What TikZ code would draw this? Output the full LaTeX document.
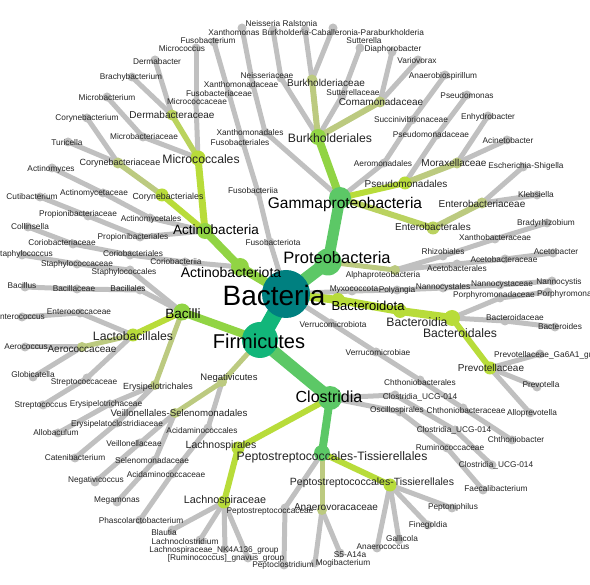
\documentclass[tikz,border=0pt]{standalone}
\usepackage{fontspec}
\setmainfont{Liberation Sans}
\usetikzlibrary{backgrounds}
\definecolor{cgray}{RGB}{192,192,192}
\definecolor{ckhaki}{RGB}{188,202,128}
\definecolor{cyg}{RGB}{184,220,58}
\definecolor{clime}{RGB}{145,212,68}
\definecolor{cgreen}{RGB}{92,200,102}
\definecolor{cfirm}{RGB}{18,182,122}
\definecolor{cteal}{RGB}{0,128,128}
\definecolor{ctext}{RGB}{35,35,35}
\begin{document}
\begin{tikzpicture}
  [x=1pt,y=-1pt,
   lf/.style={circle,fill=cgray,minimum size=9pt,inner sep=0pt},
   nd/.style 2 args={circle,fill=#1,minimum size=#2,inner sep=0pt},
   eg/.style={draw=cgray,line width=5pt},
   ec/.style 2 args={draw=#1,line width=#2},
   lb/.style={inner sep=0pt,text=ctext,font=\fontsize{8.3}{9}\selectfont},
   lb2/.style={lb,font=\fontsize{10}{11}\selectfont},
   lb3/.style={lb,font=\fontsize{12.2}{13}\selectfont}]

  \useasboundingbox (0,0) rectangle (590,585);

  \node[nd={cteal}{48pt}] (bac) at (286,294) {};
  \node[nd={cfirm}{36pt}] (firm) at (260,340) {};
  \node[nd={cgreen}{27pt}] (prot) at (328,262) {};
  \node[nd={clime}{18pt}] (actp) at (240,267) {};
  \node[nd={cyg}{14pt}] (bctd) at (338,300) {};
  \node[lf] (fusp) at (270,242) {};
  \node[lf] (myxo) at (352,291) {};
  \node[lf] (verp) at (331,323) {};

  \node[lf] (fusc) at (258,192) {};
  \node[lf] (fuso) at (243,143) {};
  \node[lf] (fusf) at (229,94) {};
  \node[lf] (fusg) at (214,42) {};

  \node[lf] (poly) at (397,290) {};
  \node[lf] (nano) at (443,288) {};
  \node[lf] (nanf) at (500,285) {};
  \node[lf] (nang) at (552,281) {};

  \node[lf] (verc) at (376,352) {};
  \node[lf] (chto) at (420,380) {};
  \node[lf] (chtf) at (463,408) {};
  \node[lf] (chtg) at (512,440) {};

  \node[nd={cgreen}{22pt}] (gamm) at (340,198) {};
  \node[nd={ckhaki}{10pt}] (alph) at (395,270) {};
  \node[nd={clime}{16pt}] (burk) at (318,137) {};
  \node[nd={cyg}{13pt}] (pseo) at (405,183) {};
  \node[nd={cyg!45!ckhaki}{13pt}] (ento) at (433,228) {};
  \node[lf] (xano) at (265,132) {};
  \node[lf] (xanf) at (253,85) {};
  \node[lf] (xang) at (242,28) {};
  \node[lf] (aerm) at (384,163) {};
  \node[lf] (succ) at (412,120) {};
  \node[lf] (anas) at (445,75) {};
  \node[nd={ckhaki}{11pt}] (burf) at (312,80) {};
  \node[nd={ckhaki}{11pt}] (coma) at (380,102) {};
  \node[lf] (neif) at (281,78) {};
  \node[lf] (neig) at (273,30) {};
  \node[lf] (rals) at (305,30) {};
  \node[lf] (bcpg) at (333,28) {};
  \node[lf] (sutf) at (342,96) {};
  \node[lf] (sutg) at (360,48) {};
  \node[lf] (diap) at (392,52) {};
  \node[lf] (vari) at (418,60) {};
  \node[lf] (psef) at (437,135) {};
  \node[lf] (psdg) at (467,95) {};
  \node[nd={ckhaki}{11pt}] (morx) at (457,163) {};
  \node[lf] (enhy) at (488,116) {};
  \node[lf] (acin) at (507,140) {};
  \node[nd={ckhaki}{11pt}] (entf) at (482,203) {};
  \node[lf] (esch) at (523,167) {};
  \node[lf] (kleb) at (537,195) {};
  \node[lf] (rhiz) at (443,256) {};
  \node[lf] (xbf) at (495,239) {};
  \node[lf] (brad) at (547,223) {};
  \node[lf] (acto) at (457,264) {};
  \node[lf] (actf) at (505,259) {};
  \node[lf] (acet) at (553,253) {};

  \node[nd={cyg}{14pt}] (bctc) at (400,311) {};
  \node[nd={cyg}{16pt}] (bcto) at (452,318) {};
  \node[lf] (bcdf) at (505,321) {};
  \node[lf] (bcdg) at (555,327) {};
  \node[lf] (porf) at (500,298) {};
  \node[lf] (porg) at (548,292) {};
  \node[nd={cyg}{13pt}] (prev) at (490,368) {};
  \node[lf] (ga6a) at (540,354) {};
  \node[lf] (prvg) at (537,387) {};
  \node[lf] (allo) at (530,413) {};

  \node[nd={cgreen}{24pt}] (clos) at (330,398) {};
  \node[nd={clime}{17pt}] (bacl) at (182,312) {};
  \node[nd={ckhaki}{10pt}] (negv) at (222,382) {};

  \node[nd={cyg}{13pt}] (lacho) at (238,448) {};
  \node[nd={cyg}{13pt}] (lachf) at (224,502) {};
  \node[lf] (blau) at (172,530) {};
  \node[lf] (lcld) at (200,540) {};
  \node[lf] (nk4a) at (225,549) {};
  \node[lf] (gnav) at (248,558) {};
  \node[nd={cgreen}{16pt}] (pepo) at (322,453) {};
  \node[lf] (ptcf) at (285,508) {};
  \node[lf] (ptcg) at (284,565) {};
  \node[nd={ckhaki}{10pt}] (anvr) at (322,510) {};
  \node[lf] (s5aa) at (340,553) {};
  \node[lf] (mogi) at (315,563) {};
  \node[nd={cyg}{13pt}] (pepf) at (390,485) {};
  \node[lf] (pnph) at (452,508) {};
  \node[lf] (fine) at (428,525) {};
  \node[lf] (gall) at (399,540) {};
  \node[lf] (anco) at (377,548) {};
  \node[lf] (osci) at (400,412) {};
  \node[lf] (rumf) at (447,448) {};
  \node[lf] (faec) at (483,490) {};
  \node[lf] (ucgo) at (395,395) {};
  \node[lf] (ucgf) at (455,430) {};
  \node[lf] (ucgg) at (492,465) {};

  \node[nd={cyg}{13pt}] (lact) at (133,335) {};
  \node[lf] (entcf) at (80,313) {};
  \node[lf] (entcg) at (22,317) {};
  \node[nd={ckhaki}{10pt}] (aerf) at (82,347) {};
  \node[lf] (aerg) at (25,347) {};
  \node[lf] (glob) at (33,377) {};
  \node[lf] (strf) at (87,378) {};
  \node[lf] (strg) at (43,405) {};
  \node[lf] (bclo) at (140,290) {};
  \node[lf] (bclf) at (77,289) {};
  \node[lf] (bclg) at (25,287) {};
  \node[lf] (stao) at (130,270) {};
  \node[lf] (staf) at (77,264) {};
  \node[lf] (stag) at (22,255) {};
  \node[nd={ckhaki}{10pt}] (erys) at (155,385) {};
  \node[lf] (eryf) at (110,404) {};
  \node[lf] (allb) at (58,433) {};
  \node[lf] (ercf) at (117,423) {};
  \node[lf] (cate) at (75,458) {};

  \node[nd={ckhaki}{10pt}] (veil) at (175,413) {};
  \node[lf] (veif) at (140,443) {};
  \node[lf] (negc) at (95,482) {};
  \node[lf] (self) at (155,460) {};
  \node[lf] (mega) at (117,502) {};
  \node[lf] (acdo) at (208,428) {};
  \node[lf] (acdf) at (172,474) {};
  \node[lf] (phas) at (140,520) {};

  \node[nd={clime}{16pt}] (actb) at (205,231) {};
  \node[lf] (corc) at (185,262) {};
  \node[lf] (coro) at (130,255) {};
  \node[lf] (corf) at (73,244) {};
  \node[lf] (coll) at (28,227) {};
  \node[nd={cyg}{15pt}] (micr) at (198,158) {};
  \node[lf] (micf) at (196,102) {};
  \node[lf] (micg) at (196,48) {};
  \node[nd={cyg!50!ckhaki}{11pt}] (derm) at (172,115) {};
  \node[lf] (derg) at (155,60) {};
  \node[lf] (brac) at (132,77) {};
  \node[lf] (mcbf) at (143,137) {};
  \node[lf] (mcbg) at (107,97) {};
  \node[nd={cyg}{13pt}] (cory) at (162,195) {};
  \node[nd={ckhaki}{11pt}] (coryf) at (118,163) {};
  \node[lf] (coryg) at (87,118) {};
  \node[lf] (turi) at (68,142) {};
  \node[lf] (prpo) at (140,237) {};
  \node[lf] (prpf) at (88,216) {};
  \node[lf] (cuti) at (40,197) {};
  \node[lf] (acmo) at (150,218) {};
  \node[lf] (acmf) at (103,193) {};
  \node[lf] (acmg) at (52,168) {};

  \begin{pgfonlayer}{background}
    \path[eg]
      (bac.center) edge (fusp.center) (fusp.center) edge (fusc.center)
      (fusc.center) edge (fuso.center) (fuso.center) edge (fusf.center)
      (fusf.center) edge (fusg.center)
      (bac.center) edge (myxo.center) (myxo.center) edge (poly.center)
      (poly.center) edge (nano.center) (nano.center) edge (nanf.center)
      (nanf.center) edge (nang.center)
      (bac.center) edge (verp.center) (verp.center) edge (verc.center)
      (verc.center) edge (chto.center) (chto.center) edge (chtf.center)
      (chtf.center) edge (chtg.center)
      (gamm.center) edge (xano.center) (xano.center) edge (xanf.center)
      (xanf.center) edge (xang.center)
      (gamm.center) edge (aerm.center) (aerm.center) edge (succ.center)
      (succ.center) edge (anas.center)
      (burk.center) edge (neif.center) (neif.center) edge (neig.center)
      (burf.center) edge (rals.center) (burf.center) edge (bcpg.center)
      (burk.center) edge (sutf.center) (sutf.center) edge (sutg.center)
      (coma.center) edge (diap.center) (coma.center) edge (vari.center)
      (pseo.center) edge (psef.center) (psef.center) edge (psdg.center)
      (morx.center) edge (enhy.center) (morx.center) edge (acin.center)
      (entf.center) edge (esch.center) (entf.center) edge (kleb.center)
      (alph.center) edge (rhiz.center) (rhiz.center) edge (xbf.center)
      (xbf.center) edge (brad.center)
      (alph.center) edge (acto.center) (acto.center) edge (actf.center)
      (actf.center) edge (acet.center)
      (bcto.center) edge (bcdf.center) (bcdf.center) edge (bcdg.center)
      (bcto.center) edge (porf.center) (porf.center) edge (porg.center)
      (prev.center) edge (ga6a.center) (prev.center) edge (prvg.center)
      (prev.center) edge (allo.center)
      (clos.center) edge (ucgo.center) (ucgo.center) edge (ucgf.center)
      (ucgf.center) edge (ucgg.center)
      (clos.center) edge (osci.center) (osci.center) edge (rumf.center)
      (rumf.center) edge (faec.center)
      (lachf.center) edge (blau.center) (lachf.center) edge (lcld.center)
      (lachf.center) edge (nk4a.center) (lachf.center) edge (gnav.center)
      (pepo.center) edge (ptcf.center) (ptcf.center) edge (ptcg.center)
      (anvr.center) edge (s5aa.center) (anvr.center) edge (mogi.center)
      (pepf.center) edge (pnph.center) (pepf.center) edge (fine.center)
      (pepf.center) edge (gall.center) (pepf.center) edge (anco.center)
      (lact.center) edge (entcf.center) (entcf.center) edge (entcg.center)
      (aerf.center) edge (aerg.center) (aerf.center) edge (glob.center)
      (lact.center) edge (strf.center) (strf.center) edge (strg.center)
      (bacl.center) edge (bclo.center) (bclo.center) edge (bclf.center)
      (bclf.center) edge (bclg.center)
      (bacl.center) edge (stao.center) (stao.center) edge (staf.center)
      (staf.center) edge (stag.center)
      (erys.center) edge (eryf.center) (eryf.center) edge (allb.center)
      (erys.center) edge (ercf.center) (ercf.center) edge (cate.center)
      (veil.center) edge (veif.center) (veif.center) edge (negc.center)
      (veil.center) edge (self.center) (self.center) edge (mega.center)
      (negv.center) edge (acdo.center) (acdo.center) edge (acdf.center)
      (acdf.center) edge (phas.center)
      (actp.center) edge (corc.center) (corc.center) edge (coro.center)
      (coro.center) edge (corf.center) (corf.center) edge (coll.center)
      (micr.center) edge (micf.center) (micf.center) edge (micg.center)
      (derm.center) edge (derg.center) (derm.center) edge (brac.center)
      (micr.center) edge (mcbf.center) (mcbf.center) edge (mcbg.center)
      (coryf.center) edge (coryg.center) (coryf.center) edge (turi.center)
      (actb.center) edge (prpo.center) (prpo.center) edge (prpf.center)
      (prpf.center) edge (cuti.center)
      (actb.center) edge (acmo.center) (acmo.center) edge (acmf.center)
      (acmf.center) edge (acmg.center);

    \draw[ec={cfirm}{16pt}] (bac.center) -- (firm.center);
    \draw[ec={cgreen}{13pt}] (bac.center) -- (prot.center);
    \draw[ec={clime}{9pt}] (bac.center) -- (actp.center);
    \draw[ec={cyg}{8pt}] (bac.center) -- (bctd.center);
    \draw[ec={cgreen}{12pt}] (firm.center) -- (clos.center);
    \draw[ec={clime}{8pt}] (firm.center) -- (bacl.center);
    \draw[ec={ckhaki}{5pt}] (firm.center) -- (negv.center);
    \draw[ec={cgreen}{11pt}] (prot.center) -- (gamm.center);
    \draw[ec={ckhaki}{5pt}] (prot.center) -- (alph.center);
    \draw[ec={clime}{8pt}] (gamm.center) -- (burk.center);
    \draw[ec={cyg}{6pt}] (gamm.center) -- (pseo.center);
    \draw[ec={cyg!45!ckhaki}{6pt}] (gamm.center) -- (ento.center);
    \draw[ec={ckhaki}{6pt}] (burk.center) -- (burf.center);
    \draw[ec={ckhaki}{6pt}] (burk.center) -- (coma.center);
    \draw[ec={ckhaki}{6pt}] (pseo.center) -- (morx.center);
    \draw[ec={ckhaki}{6pt}] (ento.center) -- (entf.center);
    \draw[ec={clime}{8pt}] (actp.center) -- (actb.center);
    \draw[ec={cyg}{7pt}] (actb.center) -- (micr.center);
    \draw[ec={cyg}{6pt}] (actb.center) -- (cory.center);
    \draw[ec={cyg!50!ckhaki}{5.5pt}] (micr.center) -- (derm.center);
    \draw[ec={ckhaki}{5.5pt}] (cory.center) -- (coryf.center);
    \draw[ec={cyg}{8pt}] (bctd.center) -- (bctc.center);
    \draw[ec={cyg}{8pt}] (bctc.center) -- (bcto.center);
    \draw[ec={cyg}{6pt}] (bcto.center) -- (prev.center);
    \draw[ec={cyg}{6pt}] (bacl.center) -- (lact.center);
    \draw[ec={ckhaki}{5pt}] (bacl.center) -- (erys.center);
    \draw[ec={ckhaki}{5pt}] (lact.center) -- (aerf.center);
    \draw[ec={ckhaki}{5pt}] (negv.center) -- (veil.center);
    \draw[ec={cyg}{6pt}] (clos.center) -- (lacho.center);
    \draw[ec={cyg}{6pt}] (lacho.center) -- (lachf.center);
    \draw[ec={cgreen}{8pt}] (clos.center) -- (pepo.center);
    \draw[ec={cyg}{6pt}] (pepo.center) -- (pepf.center);
    \draw[ec={ckhaki}{5pt}] (pepo.center) -- (anvr.center);
  \end{pgfonlayer}

  \node[lb,font=\fontsize{28}{30}\selectfont,text=black] (tbac) at (274,295) {Bacteria};
  \node[lb,font=\fontsize{20}{22}\selectfont,text=black] (tfirm) at (259,341) {Firmicutes};
  \node[lb,font=\fontsize{16.5}{18}\selectfont,text=black] (tprot) at (337,258) {Proteobacteria};
  \node[lb,font=\fontsize{15.5}{17}\selectfont,text=black] (tgamm) at (345,204) {Gammaproteobacteria};
  \node[lb,font=\fontsize{16}{18}\selectfont,text=black] (tclos) at (329,397) {Clostridia};
  \node[lb,font=\fontsize{14}{16}\selectfont,text=black] (tactp) at (231,272) {Actinobacteriota};
  \node[lb,font=\fontsize{13.5}{15}\selectfont,text=black] (tactb) at (216,230) {Actinobacteria};
  \node[lb,font=\fontsize{13.5}{15}\selectfont,text=black] (tbacl) at (183,314) {Bacilli};
  \node[lb,font=\fontsize{13}{15}\selectfont,text=black] (tbctd) at (368,306) {Bacteroidota};

  \node[lb3] (tburk) at (330,138) {Burkholderiales};
  \node[lb3] (tmicr) at (201,159) {Micrococcales};
  \node[lb3] (tbctc) at (417,322) {Bacteroidia};
  \node[lb3] (tbcto) at (460,333) {Bacteroidales};
  \node[lb3] (tlact) at (133,336) {Lactobacillales};
  \node[lb3] (tpepo) at (332,457) {Peptostreptococcales-Tissierellales};

  \node[lb2] (tburf) at (326,83) {Burkholderiaceae};
  \node[lb2] (tcoma) at (381,102) {Comamonadaceae};
  \node[lb2] (tmorx) at (454,163) {Moraxellaceae};
  \node[lb2] (tpseo) at (406,184) {Pseudomonadales};
  \node[lb2] (tentf) at (482,204) {Enterobacteriaceae};
  \node[lb2] (tento) at (433,227) {Enterobacterales};
  \node[lb2] (tprev) at (491,368) {Prevotellaceae};
  \node[lb2] (tderm) at (172,115) {Dermabacteraceae};
  \node[lb2] (taerf) at (82,349) {Aerococcaceae};
  \node[lb,font=\fontsize{9.7}{11}\selectfont] (tveil) at (179,413) {Veillonellales-Selenomonadales};
  \node[lb,font=\fontsize{9.5}{11}\selectfont] (tnegv) at (229,378) {Negativicutes};
  \node[lb,font=\fontsize{10.5}{12}\selectfont] (tlacho) at (221,446) {Lachnospirales};
  \node[lb,font=\fontsize{10.8}{12}\selectfont] (tlachf) at (225,501) {Lachnospiraceae};
  \node[lb,font=\fontsize{10.5}{12}\selectfont] (tpepf) at (372,483) {Peptostreptococcales-Tissierellales};
  \node[lb2] (tanvr) at (336,507) {Anaerovoracaceae};
  \node[lb,font=\fontsize{9}{10}\selectfont] (tcoryf) at (120,163) {Corynebacteriaceae};
  \node[lb,font=\fontsize{8.8}{10}\selectfont] (tcory) at (168,197) {Corynebacteriales};
  \node[lb,font=\fontsize{8.9}{10}\selectfont] (terys) at (158,387) {Erysipelotrichales};

  \node[lb] (tfusp) at (273,243) {Fusobacteriota};
  \node[lb] (tfusc) at (253,191) {Fusobacteriia};
  \node[lb] (tfuso) at (240,143) {Fusobacteriales};
  \node[lb] (tfusf) at (219,94) {Fusobacteriaceae};
  \node[lb] (tfusg) at (208,41) {Fusobacterium};
  \node[lb] (tmyxo) at (354,290) {Myxococcota};
  \node[lb] (tpoly) at (397,290) {Polyangia};
  \node[lb] (tnano) at (443,287) {Nannocystales};
  \node[lb] (tnanf) at (502,285) {Nannocystaceae};
  \node[lb] (tnang) at (559,282) {Nannocystis};
  \node[lb] (tverp) at (333,325) {Verrucomicrobiota};
  \node[lb] (tverc) at (378,353) {Verrucomicrobiae};
  \node[lb] (tchto) at (420,383) {Chthoniobacterales};
  \node[lb] (tchtf) at (466,411) {Chthoniobacteraceae};
  \node[lb] (tchtg) at (516,440) {Chthoniobacter};

  \node[lb] (txano) at (250,133) {Xanthomonadales};
  \node[lb] (txanf) at (241,85) {Xanthomonadaceae};
  \node[lb] (txang) at (234,33) {Xanthomonas};
  \node[lb] (taerm) at (383,164) {Aeromonadales};
  \node[lb] (tsucc) at (411,120) {Succinivibrionaceae};
  \node[lb] (tanas) at (443,76) {Anaerobiospirillum};
  \node[lb] (tneif) at (267,76) {Neisseriaceae};
  \node[lb] (tneig) at (263,24) {Neisseria};
  \node[lb] (trals) at (300,24) {Ralstonia};
  \node[lb] (tbcpg) at (343,33) {Burkholderia-Caballeronia-Paraburkholderia};
  \node[lb] (tsutf) at (353,93) {Sutterellaceae};
  \node[lb] (tsutg) at (364,41) {Sutterella};
  \node[lb] (tdiap) at (393,49) {Diaphorobacter};
  \node[lb] (tvari) at (417,61) {Variovorax};
  \node[lb] (tpsef) at (431,135) {Pseudomonadaceae};
  \node[lb] (tpsdg) at (467,96) {Pseudomonas};
  \node[lb] (tenhy) at (488,117) {Enhydrobacter};
  \node[lb] (tacin) at (508,141) {Acinetobacter};
  \node[lb] (tesch) at (526,166) {Escherichia-Shigella};
  \node[lb] (tkleb) at (536,195) {Klebsiella};
  \node[lb] (talph) at (383,275) {Alphaproteobacteria};
  \node[lb] (trhiz) at (443,252) {Rhizobiales};
  \node[lb] (txbf) at (495,238) {Xanthobacteraceae};
  \node[lb] (tbrad) at (546,223) {Bradyrhizobium};
  \node[lb] (tacto) at (457,269) {Acetobacterales};
  \node[lb] (tactf) at (504,260) {Acetobacteraceae};
  \node[lb] (tacet) at (556,252) {Acetobacter};

  \node[lb] (tbcdf) at (515,318) {Bacteroidaceae};
  \node[lb] (tbcdg) at (560,327) {Bacteroides};
  \node[lb] (tporf) at (494,295) {Porphyromonadaceae};
  \node[lb,anchor=west] (tporg) at (537,294) {Porphyromonas};
  \node[lb,anchor=west] (tga6a) at (494,355) {Prevotellaceae\_Ga6A1\_group};
  \node[lb] (tprvg) at (541,385) {Prevotella};
  \node[lb] (tallo) at (532,413) {Alloprevotella};

  \node[lb] (tblau) at (164,533) {Blautia};
  \node[lb] (tlcld) at (185,542) {Lachnoclostridium};
  \node[lb] (tnk4a) at (214,550) {Lachnospiraceae\_NK4A136\_group};
  \node[lb] (tgnav) at (226,558) {[Ruminococcus]\_gnavus\_group};
  \node[lb] (tptcf) at (270,512) {Peptostreptococcaceae};
  \node[lb] (tptcg) at (283,565) {Peptoclostridium};
  \node[lb] (ts5aa) at (350,555) {S5-A14a};
  \node[lb] (tmogi) at (343,563) {Mogibacterium};
  \node[lb] (tpnph) at (453,507) {Peptoniphilus};
  \node[lb] (tfine) at (428,525) {Finegoldia};
  \node[lb] (tgall) at (402,539) {Gallicola};
  \node[lb] (tanco) at (383,547) {Anaerococcus};
  \node[lb] (tosci) at (397,410) {Oscillospirales};
  \node[lb] (trumf) at (450,448) {Ruminococcaceae};
  \node[lb] (tfaec) at (496,489) {Faecalibacterium};
  \node[lb] (tucgo) at (420,397) {Clostridia\_UCG-014};
  \node[lb] (tucgf) at (454,430) {Clostridia\_UCG-014};
  \node[lb] (tucgg) at (496,465) {Clostridia\_UCG-014};

  \node[lb] (tentcf) at (79,312) {Enterococcaceae};
  \node[lb,anchor=east] (tentcg) at (45,317) {Enterococcus};
  \node[lb] (taerg) at (26,347) {Aerococcus};
  \node[lb] (tglob) at (33,375) {Globicatella};
  \node[lb] (tstrf) at (84,382) {Streptococcaceae};
  \node[lb] (tstrg) at (41,405) {Streptococcus};
  \node[lb] (tbclo) at (128,289) {Bacillales};
  \node[lb] (tbclf) at (74,289) {Bacillaceae};
  \node[lb] (tbclg) at (22,286) {Bacillus};
  \node[lb] (tstao) at (124,272) {Staphylococcales};
  \node[lb] (tstaf) at (77,264) {Staphylococcaceae};
  \node[lb,anchor=east] (tstag) at (53,254) {Staphylococcus};
  \node[lb] (teryf) at (106,404) {Erysipelotrichaceae};
  \node[lb] (tallb) at (56,433) {Allobaculum};
  \node[lb] (tercf) at (117,424) {Erysipelatoclostridiaceae};
  \node[lb] (tcate) at (75,458) {Catenibacterium};
  \node[lb] (tveif) at (134,444) {Veillonellaceae};
  \node[lb] (tnegc) at (96,480) {Negativicoccus};
  \node[lb] (tself) at (152,461) {Selenomonadaceae};
  \node[lb] (tmega) at (117,501) {Megamonas};
  \node[lb] (tacdo) at (202,431) {Acidaminococcales};
  \node[lb] (tacdf) at (166,475) {Acidaminococcaceae};
  \node[lb] (tphas) at (141,521) {Phascolarctobacterium};

  \node[lb] (tcorc) at (176,262) {Coriobacteriia};
  \node[lb] (tcoro) at (133,254) {Coriobacteriales};
  \node[lb] (tcorf) at (62,243) {Coriobacteriaceae};
  \node[lb] (tcoll) at (30,227) {Collinsella};
  \node[lb] (tmicf) at (197,102) {Micrococcaceae};
  \node[lb] (tmicg) at (182,49) {Micrococcus};
  \node[lb] (tderg) at (157,62) {Dermabacter};
  \node[lb] (tbrac) at (131,77) {Brachybacterium};
  \node[lb] (tmcbf) at (144,137) {Microbacteriaceae};
  \node[lb] (tmcbg) at (107,98) {Microbacterium};
  \node[lb] (tcoryg) at (87,118) {Corynebacterium};
  \node[lb] (tturi) at (67,143) {Turicella};
  \node[lb] (tprpo) at (133,237) {Propionibacteriales};
  \node[lb] (tprpf) at (78,214) {Propionibacteriaceae};
  \node[lb] (tcuti) at (32,197) {Cutibacterium};
  \node[lb] (tacmo) at (151,219) {Actinomycetales};
  \node[lb] (tacmf) at (94,193) {Actinomycetaceae};
  \node[lb] (tacmg) at (51,169) {Actinomyces};

\end{tikzpicture}
\end{document}
